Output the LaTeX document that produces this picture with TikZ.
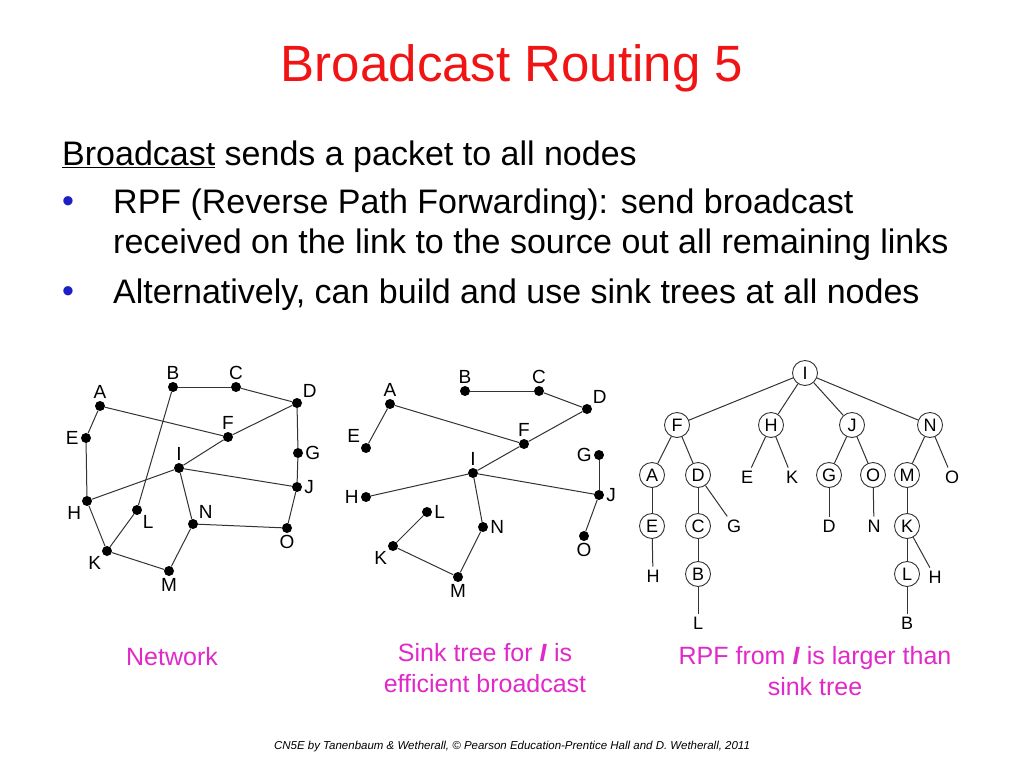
\documentclass[tikz,border=0pt]{standalone}
\usepackage{fontspec}
\setmainfont{Liberation Sans}
\usetikzlibrary{positioning}
\definecolor{titlered}{RGB}{240,20,20}
\definecolor{bulletblue}{RGB}{30,30,200}
\definecolor{captionpink}{RGB}{225,40,200}
\tikzset{
    dot/.style={circle,fill=black,inner sep=0pt,minimum size=10pt},
    edge/.style={draw=black!80,line width=1pt},
    tnode/.style={circle,draw=black!80,line width=0.9pt,inner sep=0pt,minimum size=25pt,font=\fontsize{18}{18}\selectfont},
    tleaf/.style={inner sep=3pt,font=\fontsize{18}{18}\selectfont},
    lbl/.style={font=\fontsize{19}{19}\selectfont},
    caption/.style={captionpink,font=\fontsize{25}{31}\selectfont,align=center},
    body/.style={anchor=west,font=\fontsize{34}{34}\selectfont,inner sep=0pt},
}
\begin{document}
\begin{tikzpicture}[x=1pt,y=-1pt]
    \useasboundingbox (0,0) rectangle (1024,768);
    % title and text
    \node[titlered,font=\fontsize{51}{51}\selectfont] (title) at (512,68) {Broadcast Routing 5};
    \node[body] (line0) at (62,157) {\underline{Broadcast} sends a packet to all nodes};
    \node[body,bulletblue] (b1) at (62,205) {•};
    \node[body] (line1) at (113,205) {RPF (Reverse Path Forwarding): send broadcast};
    \node[body] (line2) at (113,245) {received on the link to the source out all remaining links};
    \node[body,bulletblue] (b2) at (62,295) {•};
    \node[body] (line3) at (113,295) {Alternatively, can build and use sink trees at all nodes};

    % network
    \foreach \n/\x/\y/\p in {A/100/406/above, B/173/387/above, C/236/387/above,
        D/297/403/above right, E/86/438/left, F/228/437/above, G/298/453/right,
        I/179/468/above, J/297/487/right, H/87/501/below left, L/137/510/below right,
        N/193/524/above right, O/287/528/below, K/107/551/below left, M/169/571/below}
        \node[dot,label={[lbl,inner sep=2pt]\p:\n}] (n\n) at (\x,\y) {};
    \foreach \a/\b in {A/E, E/H, H/K, K/M, M/N, N/I, I/J, H/I, I/F, F/D, A/F,
        B/C, C/D, D/G, G/J, J/O, O/N, B/L, L/K}
        \draw[edge] (n\a) -- (n\b);

    % sink tree
    \foreach \n/\x/\y/\p in {A/390/404/above, B/465/391/above, C/539/391/above,
        D/587/409/above right, E/366/448/above left, F/524/444/above, G/599/455/left,
        I/473/473/above, J/599/495/right, H/366/497/left, L/427/512/right,
        N/483/527/right, K/393/546/below left, O/584/536/below, M/458/577/below}
        \node[dot,label={[lbl,inner sep=2pt]\p:\n}] (s\n) at (\x,\y) {};
    \foreach \a/\b in {B/C, C/D, D/F, A/F, A/E, F/I, I/H, I/J, I/N, G/J, J/O,
        N/M, M/K, K/L}
        \draw[edge] (s\a) -- (s\b);

    % RPF tree
    \node[tnode] (tI) at (805,373) {I};
    \node[tnode] (tF) at (677,425) {F};
    \node[tnode] (tH) at (771,425) {H};
    \node[tnode] (tJ) at (852,425) {J};
    \node[tnode] (tN) at (930,425) {N};
    \node[tnode] (tA) at (652,475) {A};
    \node[tnode] (tD) at (698,475) {D};
    \node[tleaf] (tE1) at (747,477) {E};
    \node[tleaf] (tK1) at (792,477) {K};
    \node[tnode] (tG) at (829,475) {G};
    \node[tnode] (tO) at (873,475) {O};
    \node[tnode] (tM) at (907,475) {M};
    \node[tleaf] (tO1) at (952,477) {O};
    \node[tnode] (tE) at (652,526) {E};
    \node[tnode] (tC) at (698,526) {C};
    \node[tleaf] (tG1) at (734,526) {G};
    \node[tleaf] (tD1) at (829,526) {D};
    \node[tleaf] (tN1) at (874,526) {N};
    \node[tnode] (tK) at (907,526) {K};
    \node[tleaf] (tH1) at (653,576) {H};
    \node[tnode] (tB) at (698,574) {B};
    \node[tnode] (tL) at (907,574) {L};
    \node[tleaf] (tH2) at (935,577) {H};
    \node[tleaf] (tL1) at (698,623) {L};
    \node[tleaf] (tB1) at (907,623) {B};
    \foreach \a/\b in {I/F, I/H, I/J, I/N, F/A, F/D, H/E1, H/K1, J/G, J/O,
        N/M, N/O1, A/E, D/C, D/G1, G/D1, O/N1, M/K, E/H1, C/B, K/L, K/H2,
        B/L1, L/B1}
        \draw[edge] (t\a) -- (t\b);

    % captions
    \node[caption] (cap1) at (172,657) {Network};
    \node[caption] (cap2) at (485,668) {Sink tree for \textit{\textbf{I}} is\\efficient broadcast};
    \node[caption] (cap3) at (815,671) {RPF from \textit{\textbf{I}} is larger than\\sink tree};

    % footer
    \node[font=\fontsize{11.5}{11.5}\selectfont\itshape] (foot) at (512,747)
        {CN5E by Tanenbaum \& Wetherall, © Pearson Education-Prentice Hall and D. Wetherall, 2011};
\end{tikzpicture}
\end{document}
